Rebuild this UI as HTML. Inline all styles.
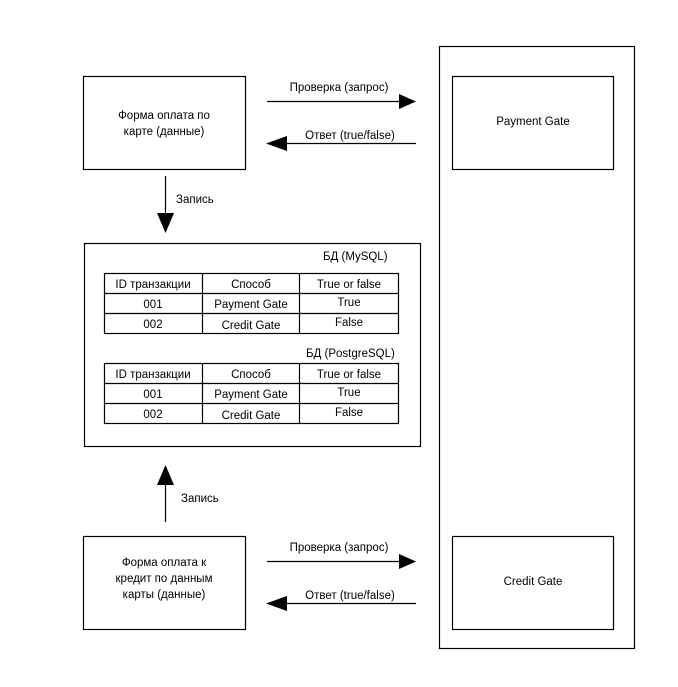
<!DOCTYPE html>
<html><head><meta charset="utf-8"><style>
html,body{margin:0;padding:0;background:#fff;}
svg{display:block;}
text{font-family:"Liberation Sans","DejaVu Sans",sans-serif;font-size:11.5px;fill:#000;}
</style></head><body>
<svg width="678" height="687" viewBox="0 0 678 687" xmlns="http://www.w3.org/2000/svg">
<g fill="none" stroke="#000" stroke-width="1.2">
<rect x="83.5" y="76.5" width="162" height="93"/>
<rect x="439.5" y="46.5" width="195" height="602"/>
<rect x="452.5" y="76.5" width="161" height="93"/>
<rect x="452.5" y="536.5" width="161" height="93"/>
<rect x="84.5" y="243.5" width="336" height="203"/>
<rect x="83.5" y="536.5" width="162" height="93"/>
<!-- table 1 -->
<rect x="104.5" y="273.5" width="294" height="60"/>
<line x1="104" y1="293.5" x2="398" y2="293.5"/>
<line x1="104" y1="313.5" x2="398" y2="313.5"/>
<line x1="202.5" y1="273" x2="202.5" y2="333"/>
<line x1="299.5" y1="273" x2="299.5" y2="333"/>
<!-- table 2 -->
<rect x="104.5" y="363.5" width="294" height="60"/>
<line x1="104" y1="383.5" x2="398" y2="383.5"/>
<line x1="104" y1="403.5" x2="398" y2="403.5"/>
<line x1="202.5" y1="363" x2="202.5" y2="423"/>
<line x1="299.5" y1="363" x2="299.5" y2="423"/>
<!-- arrows lines -->
<line x1="267" y1="101.5" x2="400" y2="101.5"/>
<line x1="287" y1="143.5" x2="416" y2="143.5"/>
<line x1="267" y1="561.5" x2="400" y2="561.5"/>
<line x1="287" y1="603.5" x2="416" y2="603.5"/>
<line x1="165.5" y1="176" x2="165.5" y2="215"/>
<line x1="165.5" y1="483" x2="165.5" y2="522"/>
</g>
<g fill="#000">
<polygon points="399,94 416,101.5 399,109"/>
<polygon points="287,136 266,143.5 287,151"/>
<polygon points="399,554 416,561.5 399,569"/>
<polygon points="287,596 266,603.5 287,611"/>
<polygon points="157,213 174,213 165.5,233"/>
<polygon points="157,485 174,485 165.5,465"/>
</g>
<g text-anchor="middle">
<text x="164" y="119">Форма оплата по</text>
<text x="164" y="135">карте (данные)</text>
<text x="533" y="125">Payment Gate</text>
<text x="533" y="585">Credit Gate</text>
<text x="164" y="566">Форма оплата к</text>
<text x="164" y="582">кредит по данным</text>
<text x="164" y="598">карты (данные)</text>
<text x="339" y="91">Проверка (запрос)</text>
<text x="350" y="139">Ответ (true/false)</text>
<text x="339" y="551">Проверка (запрос)</text>
<text x="350" y="599">Ответ (true/false)</text>
<text x="153" y="288">ID транзакции</text><text x="251" y="288">Способ</text><text x="349" y="288">True or false</text>
<text x="153" y="308">001</text><text x="251" y="308">Payment Gate</text><text x="349" y="306">True</text>
<text x="153" y="328">002</text><text x="251" y="329">Credit Gate</text><text x="349" y="326">False</text>
<text x="153" y="378">ID транзакции</text><text x="251" y="378">Способ</text><text x="349" y="378">True or false</text>
<text x="153" y="398">001</text><text x="251" y="398">Payment Gate</text><text x="349" y="396">True</text>
<text x="153" y="418">002</text><text x="251" y="419">Credit Gate</text><text x="349" y="416">False</text>
</g>
<text x="323" y="260">БД (MySQL)</text>
<text x="306" y="357">БД (PostgreSQL)</text>
<text x="176" y="203">Запись</text>
<text x="181" y="502">Запись</text>
</svg>
</body></html>
